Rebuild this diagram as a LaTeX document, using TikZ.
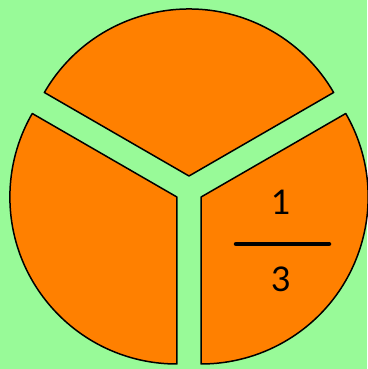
\documentclass[tikz,border=0pt]{standalone}
\usepackage{fontspec}
\setmainfont{Lato}
\usetikzlibrary{calc, positioning}
\definecolor{bggreen}{RGB}{152,250,152}
\definecolor{pieorange}{RGB}{255,128,0}
\definecolor{shadowgreen}{RGB}{60,130,60}

\begin{document}
\begin{tikzpicture}[
        x=1pt, y=1pt,
        piece/.style={draw=black, line width=1.5pt, fill=pieorange, line join=round},
        shadowpiece/.style={fill=shadowgreen, opacity=0.3},
        num/.style={font=\fontsize{34}{34}\selectfont, text=black, inner sep=0pt},
        bar/.style={line width=4.5pt, line cap=round}
    ]
        % Background
        \fill[bggreen] (0,0) rectangle (367,369);
        \useasboundingbox (0,0) rectangle (367,369);

        % Centre and the three apexes
        \coordinate (c) at (189,179);
        \coordinate (topapex) at ($(c)+(90:14)$);
        \coordinate (leftapex) at ($(c)+(210:14)$);
        \coordinate (rightapex) at ($(c)+(330:14)$);

        % Shadows
        \begin{scope}[shift={(3,-3)}]
            \fill[shadowpiece] (topapex) -- ++(150:167) arc[start angle=150, end angle=30, radius=167] -- cycle;
            \fill[shadowpiece] (leftapex) -- ++(270:167) arc[start angle=270, end angle=150, radius=167] -- cycle;
            \fill[shadowpiece] (rightapex) -- ++(30:167) arc[start angle=30, end angle=-90, radius=167] -- cycle;
        \end{scope}

        % Top piece
        \filldraw[piece] (topapex) -- ++(150:167) arc[start angle=150, end angle=30, radius=167] -- cycle;

        % Left piece
        \filldraw[piece] (leftapex) -- ++(270:167) arc[start angle=270, end angle=150, radius=167] -- cycle;

        % Right piece
        \filldraw[piece] (rightapex) -- ++(30:167) arc[start angle=30, end angle=-90, radius=167] -- cycle;

        % Fraction
        \node[num] (numer) at (281,167) {1};
        \node[num] (denom) at (281,90) {3};
        \coordinate (barL) at (236,125);
        \coordinate (barR) at (329,125);
        \draw[bar] (barL) -- (barR);
    \end{tikzpicture}
\end{document}
